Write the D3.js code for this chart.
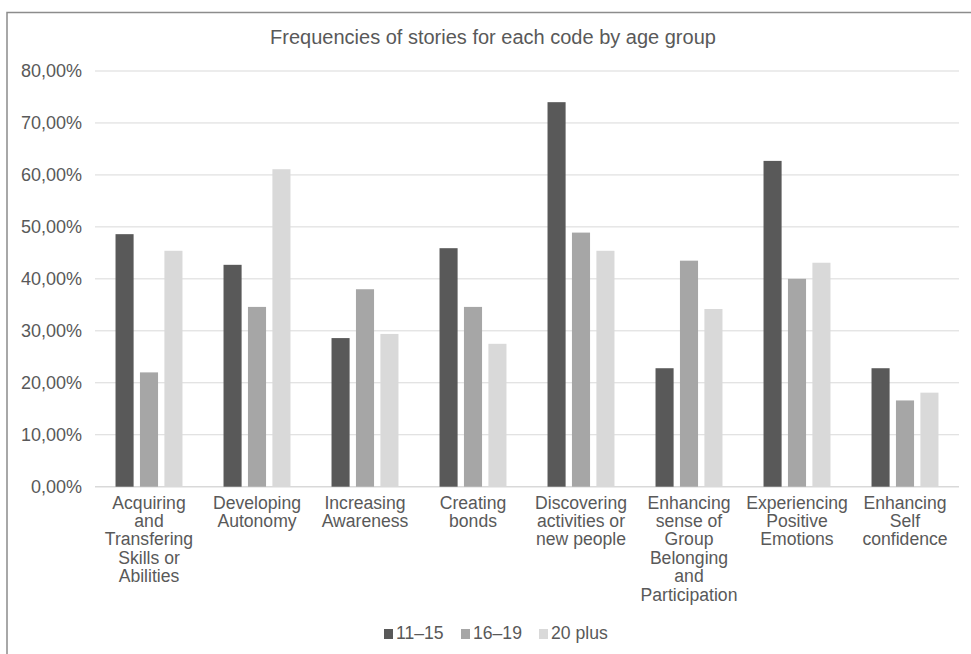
<!DOCTYPE html>
<html>
<head>
<meta charset="utf-8">
<script src="https://cdn.jsdelivr.net/npm/d3@7"></script>
<style>
  html, body { margin: 0; padding: 0; background: #fff; }
  svg { display: block; font-family: "Liberation Sans", Arial, Helvetica, sans-serif; }
</style>
</head>
<body>
<svg id="chart" width="971" height="654"></svg>
<script>
// Age-group frequency data (share of stories per code)
const categories = [
  "Acquiring and Transfering Skills or Abilities",
  "Developing Autonomy",
  "Increasing Awareness",
  "Creating bonds",
  "Discovering activities or new people",
  "Enhancing sense of Group Belonging and Participation",
  "Experiencing Positive Emotions",
  "Enhancing Self confidence"
];
const seriesNames = ["11–15", "16–19", "20 plus"];
const values_11_15 = [48.6, 42.7, 28.6, 45.9, 74.0, 22.8, 62.7, 22.8];
const values_16_19 = [22.0, 34.6, 38.0, 34.6, 48.9, 43.5, 40.0, 16.6];
const values_20plus = [45.4, 61.1, 29.4, 27.5, 45.4, 34.2, 43.1, 18.1];
const yTicks = [0, 10, 20, 30, 40, 50, 60, 70, 80];
const title = "Frequencies of stories for each code by age group";

const seriesValues = [values_11_15, values_16_19, values_20plus];
const colors = ["#595959", "#a6a6a6", "#d9d9d9"];
const textColor = "#595959";
const fontStack = "'Liberation Sans', Arial, sans-serif";

const svg = d3.select("#chart");

// Outer chart frame
svg.append("rect")
  .attr("x", 7).attr("y", 12.5)
  .attr("width", 1000).attr("height", 700)
  .attr("fill", "none").attr("stroke", "#8c8c8c").attr("stroke-width", 1.5);

const plot = { left: 95, right: 959, top: 71, bottom: 486.7 };

const x = d3.scaleBand().domain(categories).range([plot.left, plot.right])
  .paddingInner(0.38).paddingOuter(0.19);
const xInner = d3.scaleBand().domain(seriesNames).range([0, x.bandwidth()])
  .paddingInner(0.26).paddingOuter(0);
const y = d3.scaleLinear().domain([0, 80]).range([plot.bottom, plot.top]);

// Gridlines
svg.append("g").selectAll("line").data(yTicks).join("line")
  .attr("x1", plot.left).attr("x2", plot.right)
  .attr("y1", d => y(d)).attr("y2", d => y(d))
  .attr("stroke", "#d9d9d9").attr("stroke-width", d => d === 0 ? 1.5 : 1);

// Y axis labels
const fmt = d => d3.format(".2f")(d).replace(".", ",") + "%";
const yAxis = svg.append("g").attr("transform", `translate(${plot.left - 13},0)`)
  .call(d3.axisLeft(y).tickValues(yTicks).tickFormat(fmt).tickSize(0).tickPadding(0));
yAxis.select(".domain").remove();
yAxis.selectAll("text").attr("fill", textColor).style("font-size", "18px")
  .style("font-family", fontStack);

// Bars
const groups = svg.append("g").selectAll("g").data(categories).join("g")
  .attr("transform", d => `translate(${x(d)},0)`);
groups.selectAll("rect")
  .data((c, i) => seriesNames.map((s, j) => ({ s, j, v: seriesValues[j][i] })))
  .join("rect")
  .attr("x", d => xInner(d.s))
  .attr("width", xInner.bandwidth())
  .attr("y", d => y(d.v))
  .attr("height", d => y(0) - y(d.v))
  .attr("fill", d => colors[d.j]);

// Category labels, wrapped to the band width
const lineStep = 18.4;
const xAxis = svg.append("g").attr("transform", `translate(0,${plot.bottom})`)
  .call(d3.axisBottom(x).tickSize(0).tickPadding(0));
xAxis.select(".domain").remove();
xAxis.selectAll("text").each(function(d) {
  const t = d3.select(this);
  t.text(null).attr("fill", textColor).style("font-size", "17.6px")
    .style("font-family", fontStack)
    .attr("y", 22).attr("dy", null);
  const words = d.split(" ");
  const maxW = 100;
  let line = [];
  let tspan = t.append("tspan").attr("x", 0).attr("dy", 0);
  words.forEach(w => {
    line.push(w);
    tspan.text(line.join(" "));
    if (tspan.node().getComputedTextLength() > maxW && line.length > 1) {
      line.pop();
      tspan.text(line.join(" "));
      line = [w];
      tspan = t.append("tspan").attr("x", 0).attr("dy", lineStep).text(w);
    }
  });
});

// Title
svg.append("text")
  .attr("x", 493).attr("y", 43.5)
  .attr("text-anchor", "middle")
  .attr("fill", textColor)
  .style("font-size", "20px")
  .text(title);

// Legend
const legend = svg.append("g").attr("transform", "translate(0,639)");
const legendX = [384, 461, 539];
seriesNames.forEach((s, j) => {
  const g = legend.append("g").attr("transform", `translate(${legendX[j]},0)`);
  g.append("rect").attr("x", 0).attr("y", -10).attr("width", 9).attr("height", 10).attr("fill", colors[j]);
  g.append("text").attr("x", 12).attr("y", 0).attr("fill", textColor)
    .style("font-size", "17.6px").text(s);
});
</script>
</body>
</html>
